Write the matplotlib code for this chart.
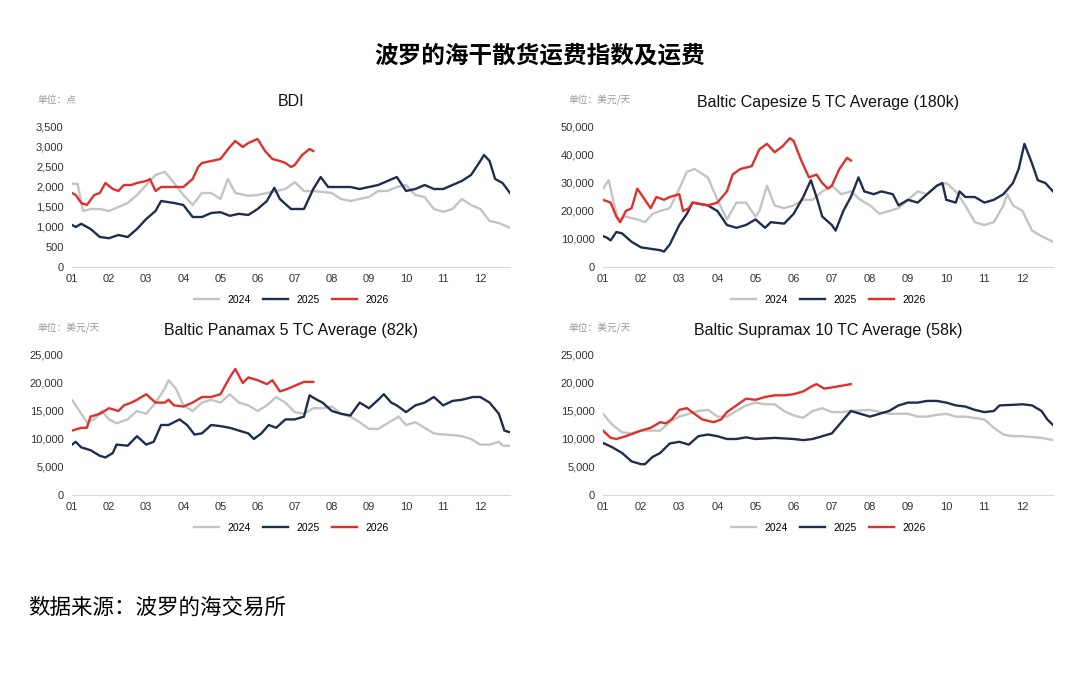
import matplotlib
matplotlib.use("Agg")
import matplotlib.pyplot as plt
from matplotlib.ticker import FuncFormatter

plt.rcParams['font.family'] = ['Liberation Sans', 'Noto Sans CJK SC', 'DejaVu Sans']

# ---- BDI ----
bdi_24_x = [1.0,1.15,1.3,1.5,1.75,2.0,2.25,2.5,2.75,3.0,3.25,3.5,3.75,4.0,4.25,4.5,4.75,5.0,5.2,5.4,5.75,6.0,6.5,6.75,7.0,7.25,7.5,8.0,8.25,8.5,8.75,9.0,9.25,9.5,9.75,10.0,10.25,10.5,10.75,11.0,11.25,11.5,11.75,12.0,12.25,12.5,12.8]
bdi_24_y = [2080,2080,1400,1450,1450,1400,1500,1600,1800,2050,2300,2380,2100,1800,1550,1850,1850,1700,2200,1850,1780,1800,1900,1950,2120,1900,1900,1850,1700,1650,1700,1750,1900,1900,2000,2050,1800,1750,1450,1380,1450,1700,1550,1450,1150,1100,980]
bdi_25_x = [1.0,1.1,1.25,1.5,1.75,2.0,2.25,2.5,2.75,3.0,3.25,3.4,3.75,4.0,4.25,4.5,4.75,5.0,5.25,5.5,5.75,6.0,6.25,6.45,6.6,6.9,7.25,7.5,7.7,7.9,8.25,8.5,8.75,9.0,9.25,9.5,9.75,10.0,10.25,10.5,10.75,11.0,11.25,11.5,11.75,12.0,12.1,12.25,12.4,12.6,12.8]
bdi_25_y = [1050,1000,1080,950,750,720,800,750,950,1200,1400,1650,1600,1550,1250,1250,1350,1370,1280,1330,1300,1450,1650,1980,1700,1450,1450,1950,2250,2000,2000,2000,1950,2000,2050,2150,2250,1900,1950,2050,1950,1950,2050,2150,2300,2650,2800,2650,2200,2100,1850]
bdi_26_x = [1.0,1.1,1.25,1.4,1.6,1.75,1.9,2.1,2.25,2.4,2.6,2.75,3.0,3.1,3.25,3.4,3.75,4.0,4.25,4.4,4.5,4.75,5.0,5.25,5.4,5.6,5.75,6.0,6.2,6.4,6.6,6.75,6.9,7.0,7.2,7.4,7.5]
bdi_26_y = [1850,1800,1600,1550,1800,1850,2100,1950,1900,2050,2050,2100,2150,2200,1900,2000,2000,2000,2200,2500,2600,2650,2700,3000,3150,3000,3100,3200,2900,2700,2650,2600,2500,2550,2800,2950,2900]

# ---- Capesize ----
cape_24_x = [1.0,1.15,1.3,1.4,1.6,1.9,2.1,2.3,2.5,2.75,3.0,3.2,3.4,3.75,4.0,4.25,4.5,4.75,5.0,5.1,5.3,5.5,5.75,6.0,6.25,6.5,6.75,7.0,7.25,7.5,7.75,8.0,8.25,8.5,8.75,9.0,9.25,9.5,9.75,10.0,10.25,10.5,10.75,11.0,11.25,11.5,11.6,11.75,12.0,12.25,12.5,12.8]
cape_24_y = [28000,31000,22000,17000,18000,17000,16000,19000,20000,21000,28000,34000,35000,32000,24000,17000,23000,23000,18000,20000,29000,22000,21000,22000,24000,24000,27000,29000,26000,27000,24000,22000,19000,20000,21000,24000,27000,26000,29000,30000,27000,22000,16000,15000,16000,22000,26000,22000,20000,13000,11000,9000]
cape_25_x = [1.0,1.1,1.2,1.35,1.5,1.75,2.0,2.25,2.5,2.6,2.75,3.0,3.2,3.35,3.75,4.0,4.25,4.5,4.75,5.0,5.25,5.4,5.75,6.0,6.25,6.45,6.6,6.75,7.0,7.1,7.3,7.5,7.7,7.85,8.1,8.3,8.6,8.75,9.0,9.25,9.5,9.75,9.9,10.0,10.25,10.35,10.5,10.75,11.0,11.25,11.5,11.75,11.9,12.05,12.25,12.4,12.6,12.8]
cape_25_y = [11000,10500,9500,12500,12000,9000,7000,6500,6000,5500,8000,15000,19000,23000,22000,20000,15000,14000,15000,17000,14000,16000,15500,19000,25000,31000,25000,18000,15000,13000,20000,25000,32000,27000,26000,27000,26000,22000,24000,23000,26000,29000,30000,24000,23000,27000,25000,25000,23000,24000,26000,30000,35000,44000,37000,31000,30000,27000]
cape_26_x = [1.0,1.2,1.35,1.45,1.6,1.75,1.9,2.1,2.25,2.4,2.6,2.75,3.0,3.1,3.25,3.35,3.75,4.0,4.25,4.4,4.6,4.9,5.1,5.3,5.5,5.7,5.9,6.0,6.2,6.4,6.6,6.75,6.9,7.0,7.2,7.4,7.5]
cape_26_y = [24000,23000,18000,16000,20000,21000,28000,24000,21000,25000,24000,25000,26000,20000,21000,23000,22000,23000,27000,33000,35000,36000,42000,44000,41000,43000,46000,45000,38000,32000,33000,30000,28000,29000,35000,39000,38000]

# ---- Panamax ----
pana_24_x = [1.0,1.2,1.4,1.6,1.8,2.0,2.2,2.5,2.75,3.0,3.25,3.5,3.6,3.8,4.0,4.25,4.5,4.75,5.0,5.25,5.5,5.75,6.0,6.25,6.5,6.75,7.0,7.25,7.5,7.75,8.0,8.25,8.5,8.75,9.0,9.25,9.5,9.8,10.0,10.25,10.5,10.75,11.0,11.25,11.5,11.75,12.0,12.25,12.5,12.6,12.8]
pana_24_y = [17000,15000,13000,13500,15000,13500,12800,13500,15000,14500,16500,19000,20500,19000,16000,15000,16500,17000,16500,18000,16500,16000,15000,16000,17500,16500,14800,14500,15500,15500,15800,14500,14000,13000,11800,11800,12800,14000,12500,13000,12000,11000,10800,10700,10500,10000,9000,9000,9500,8800,8800]
pana_25_x = [1.0,1.1,1.25,1.5,1.75,1.9,2.1,2.2,2.5,2.75,3.0,3.2,3.4,3.6,3.75,3.9,4.1,4.3,4.5,4.75,5.0,5.25,5.5,5.75,5.9,6.1,6.3,6.5,6.75,7.0,7.25,7.4,7.6,7.75,8.0,8.25,8.5,8.75,9.0,9.25,9.4,9.6,9.75,10.0,10.25,10.5,10.75,11.0,11.25,11.5,11.8,12.0,12.25,12.5,12.65,12.8]
pana_25_y = [9000,9500,8500,8000,7000,6700,7500,9000,8800,10500,9000,9500,12500,12500,13000,13500,12500,10800,11000,12500,12300,12000,11500,11000,10000,11000,12500,12000,13500,13500,14000,17800,17000,16500,15000,14500,14200,16500,15500,17000,18000,16500,16000,14800,16000,16500,17500,16000,16800,17000,17500,17500,16500,14500,11500,11200]
pana_26_x = [1.0,1.25,1.4,1.5,1.75,2.0,2.25,2.4,2.6,2.75,3.0,3.25,3.5,3.6,3.75,4.0,4.25,4.5,4.75,5.0,5.25,5.4,5.6,5.75,6.0,6.25,6.4,6.6,6.75,7.0,7.25,7.5]
pana_26_y = [11500,12000,12000,14000,14500,15500,15000,16000,16500,17000,18000,16500,16500,17000,16000,15800,16500,17500,17500,18000,21000,22500,20000,21000,20500,19800,20500,18500,18800,19500,20200,20200]

# ---- Supramax ----
supra_24_x = [1.0,1.25,1.5,1.75,2.0,2.25,2.5,2.75,3.0,3.25,3.5,3.75,4.0,4.25,4.5,4.75,5.0,5.25,5.5,5.75,6.0,6.25,6.5,6.75,7.0,7.25,7.5,8.0,8.5,9.0,9.25,9.5,9.75,10.0,10.25,10.5,11.0,11.25,11.5,11.75,12.0,12.5,12.8]
supra_24_y = [14500,12500,11200,11000,11500,11500,11500,13000,14000,14500,15000,15200,14000,14000,15000,16000,16500,16200,16200,15000,14200,13800,15000,15500,14800,14800,15000,15200,14500,14500,14000,14000,14300,14500,14000,14000,13500,12000,10800,10500,10500,10200,9800]
supra_25_x = [1.0,1.25,1.5,1.75,2.0,2.1,2.3,2.5,2.75,3.0,3.25,3.5,3.75,4.0,4.25,4.5,4.75,5.0,5.5,6.0,6.25,6.5,6.75,7.0,7.25,7.5,7.75,8.0,8.25,8.5,8.75,9.0,9.25,9.5,9.75,10.0,10.25,10.5,10.75,11.0,11.25,11.4,11.75,12.0,12.25,12.5,12.65,12.8]
supra_25_y = [9300,8500,7500,6000,5500,5500,6800,7500,9200,9500,9000,10500,10800,10500,10000,10000,10300,10000,10200,10000,9800,10000,10500,11000,13000,15000,14500,14000,14500,15000,16000,16500,16500,16800,16800,16500,16000,15800,15200,14800,15000,16000,16100,16200,16000,15000,13500,12500]
supra_26_x = [1.0,1.2,1.35,1.6,1.8,2.0,2.25,2.5,2.65,2.8,3.0,3.2,3.4,3.6,3.9,4.1,4.25,4.5,4.75,5.0,5.25,5.5,5.75,6.0,6.25,6.5,6.6,6.8,7.0,7.25,7.5]
supra_26_y = [11500,10200,10000,10500,11000,11500,12000,13000,12800,13500,15200,15500,14500,13500,13000,13500,14800,16000,17200,17000,17500,17800,17800,18000,18500,19500,19800,19000,19200,19500,19800]

months = list(range(1, 13))
month_labels = [f"{m:02d}" for m in months]
years = ["2024", "2025", "2026"]
colors = ["#c4c4c4", "#1f2d4e", "#e0302c"]

panels = [
    ("BDI", "单位：点", [0, 500, 1000, 1500, 2000, 2500, 3000, 3500],
     [(bdi_24_x, bdi_24_y), (bdi_25_x, bdi_25_y), (bdi_26_x, bdi_26_y)]),
    ("Baltic Capesize 5 TC Average (180k)", "单位：美元/天", [0, 10000, 20000, 30000, 40000, 50000],
     [(cape_24_x, cape_24_y), (cape_25_x, cape_25_y), (cape_26_x, cape_26_y)]),
    ("Baltic Panamax 5 TC Average (82k)", "单位：美元/天", [0, 5000, 10000, 15000, 20000, 25000],
     [(pana_24_x, pana_24_y), (pana_25_x, pana_25_y), (pana_26_x, pana_26_y)]),
    ("Baltic Supramax 10 TC Average (58k)", "单位：美元/天", [0, 5000, 10000, 15000, 20000, 25000],
     [(supra_24_x, supra_24_y), (supra_25_x, supra_25_y), (supra_26_x, supra_26_y)]),
]

W, H = 1080, 679
fig = plt.figure(figsize=(W/100, H/100), dpi=100)
fig.patch.set_facecolor("white")

boxes = [(72, 127, 510, 267), (603, 127, 1053, 267), (72, 355, 510, 495), (603, 355, 1053, 495)]
for (title, unit, yt, series), (x0, y0, x1, y1) in zip(panels, boxes):
    ax = fig.add_axes([x0/W, 1-y1/H, (x1-x0)/W, (y1-y0)/H])
    for (xs, ys), c, yr in zip(series, colors, years):
        ax.plot(xs, ys, color=c, lw=1.7, label=yr)
    ax.set_xlim(1, 12.8)
    ax.set_ylim(0, yt[-1])
    ax.set_xticks(months)
    ax.set_xticklabels(month_labels)
    ax.set_yticks(yt)
    ax.yaxis.set_major_formatter(FuncFormatter(lambda v, p: f"{int(v):,}"))
    for s in ["top", "right", "left"]:
        ax.spines[s].set_visible(False)
    ax.spines["bottom"].set_color("#d8d8d8")
    ax.tick_params(length=0, labelsize=8, colors="#333333")
    ax.tick_params(axis="x", pad=5)
    ax.tick_params(axis="y", pad=6)
    cx = (x0 + x1) / 2 / W
    fig.text(cx, 1-(y0-25)/H, title, ha="center", va="center", fontsize=11.5, color="#111111")
    fig.text((x0-35)/W, 1-(y0-27)/H, unit, ha="left", va="center", fontsize=7, color="#999999",
             family=['Noto Sans CJK SC', 'DejaVu Sans'])
    ax.legend(loc="upper center", bbox_to_anchor=(0.5, -0.13), ncol=3, frameon=False,
              fontsize=7.5, handlelength=2.4, columnspacing=1.2)

fig.text(0.5, 1-55/H, "波罗的海干散货运费指数及运费", ha="center", va="center", fontsize=17,
         fontweight="bold", family=['Noto Sans CJK SC', 'DejaVu Sans'])
fig.text(28/W, 1-608/H, "数据来源：波罗的海交易所", ha="left", va="center", fontsize=15.5,
         family=['Noto Sans CJK SC', 'DejaVu Sans'])

fig.savefig("out.png", dpi=100, facecolor="white")
